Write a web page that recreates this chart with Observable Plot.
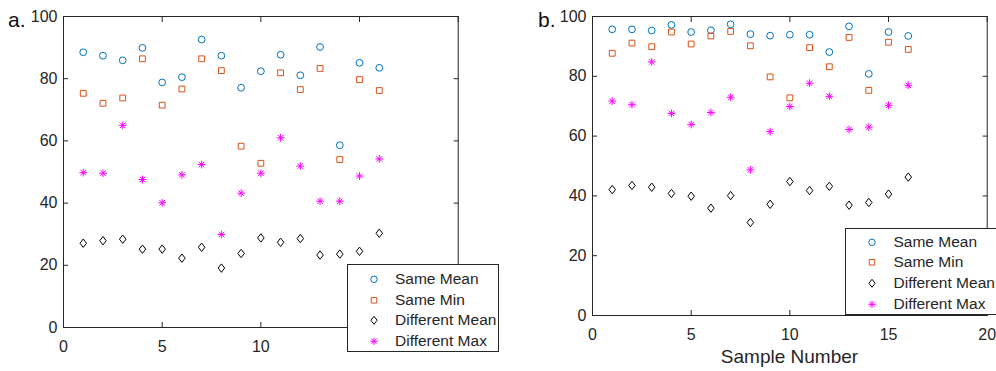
<!DOCTYPE html>
<html><head><meta charset="utf-8">
<script src="https://cdn.jsdelivr.net/npm/d3@7"></script>
<script src="https://cdn.jsdelivr.net/npm/@observablehq/plot@0.6"></script>
<style>
html,body{margin:0;padding:0;background:#fff;width:996px;height:371px;overflow:hidden;font-family:"Liberation Sans",Arial,sans-serif;color:#262626;}
#root{position:relative;width:996px;height:371px;overflow:hidden;}
.panel{position:absolute;top:0;}
.plabel{position:absolute;font-size:21px;line-height:1;color:#111;}
.legend{position:absolute;background:#fff;border:1px solid #262626;box-sizing:border-box;}
.legend .row{position:absolute;left:0;height:20.6px;line-height:20.6px;font-size:15.5px;white-space:nowrap;color:#262626;}
.legend svg{position:absolute;top:0;}
.xlabel{position:absolute;font-size:19px;transform:translateX(-50%);white-space:nowrap;color:#262626;}
</style>
</head><body><div id="root"></div>
<script>
// ---------------- data ----------------
const samples = [1,2,3,4,5,6,7,8,9,10,11,12,13,14,15,16];
const seriesNames = ["Same Mean","Same Min","Different Mean","Different Max"];
const xTicks = [0,5,10,15,20];
const xTickLabelsA = [0,5,10];      // 15 and 20 are hidden behind the legend in panel a
const xTickLabelsB = [0,5,10,15,20];
const yTicks = [0,20,40,60,80,100];

// panel a
const aSameMean = [88.5,87.4,85.9,89.9,78.8,80.5,92.6,87.4,77.1,82.4,87.7,81.1,90.2,58.6,85.1,83.5];
const aSameMin  = [75.3,72.1,73.8,86.4,71.5,76.7,86.4,82.6,58.3,52.8,81.9,76.5,83.3,54.0,79.7,76.2];
const aDiffMean = [27.1,27.9,28.4,25.2,25.2,22.3,25.8,19.1,23.8,28.8,27.4,28.6,23.3,23.6,24.5,30.3];
const aDiffMax  = [49.8,49.6,65.0,47.6,40.1,49.1,52.4,29.9,43.2,49.6,61.0,51.9,40.6,40.6,48.7,54.2];

// panel b
const bSameMean = [95.7,95.7,95.3,97.2,94.8,95.4,97.4,94.1,93.6,93.9,93.9,88.1,96.7,80.8,94.8,93.5];
const bSameMin  = [87.7,91.1,89.9,94.8,90.8,93.5,95.0,90.2,79.8,72.8,89.6,83.2,93.0,75.3,91.4,89.0];
const bDiffMean = [42.1,43.5,42.9,40.8,39.9,35.9,40.1,31.1,37.2,44.8,41.8,43.2,36.9,37.8,40.6,46.3];
const bDiffMax  = [71.7,70.5,84.8,67.6,63.9,67.9,73.0,48.7,61.5,69.9,77.7,73.3,62.2,63.0,70.3,77.0];

// ---------------- symbols ----------------
const symSquare = {draw(c, size){const r=Math.sqrt(size/Math.PI);c.moveTo(-r,-r);c.lineTo(r,-r);c.lineTo(r,r);c.lineTo(-r,r);c.closePath();}};
const symDiamond = {draw(c, size){const r=Math.sqrt(size/Math.PI);const w=r*0.78;c.moveTo(0,-r);c.lineTo(w,0);c.lineTo(0,r);c.lineTo(-w,0);c.closePath();}};
const symAsterisk = {draw(c, size){const r=Math.sqrt(size/Math.PI);const d=r*Math.SQRT1_2;
  c.moveTo(-r,0);c.lineTo(r,0);c.moveTo(0,-r);c.lineTo(0,r);
  c.moveTo(-d,-d);c.lineTo(d,d);c.moveTo(-d,d);c.lineTo(d,-d);}};

const styles = [
  {symbol:"circle",   stroke:"#0072BD", r:3.4},
  {symbol:symSquare,  stroke:"#D95319", r:2.9},
  {symbol:symDiamond, stroke:"#000000", r:4.2},
  {symbol:symAsterisk,stroke:"#FF00FF", r:3.9}
];

function rowsFor(seriesArrays){
  return seriesArrays.map((vals, si) => samples.map((s, i) => ({x:s, y:vals[i], series:seriesNames[si]})));
}

function makePanel(seriesArrays, opt){
  const groups = rowsFor(seriesArrays);
  const marks = [
    Plot.frame({stroke:"#262626", strokeWidth:1}),
    Plot.axisX({anchor:"bottom", ticks:xTicks, tickSize:-5, tickFormat:()=>"", label:null}),
    Plot.axisX({anchor:"bottom", ticks:opt.xLabels, tickSize:0, tickPadding:13, fontSize:16, label:null}),
    Plot.axisX({anchor:"top", ticks:xTicks, tickSize:-5, tickFormat:()=>"", label:null}),
    Plot.axisY({anchor:"left", ticks:yTicks, tickSize:-5, tickPadding:11, fontSize:16, label:null}),
    Plot.axisY({anchor:"right", ticks:yTicks, tickSize:-5, tickFormat:()=>"", label:null}),
  ];
  groups.forEach((g, si) => {
    const st = styles[si];
    marks.push(Plot.dot(g, {x:"x", y:"y", symbol:st.symbol, stroke:st.stroke, fill:"none", r:st.r, strokeWidth:1}));
  });
  const svg = Plot.plot({
    width:opt.width, height:371,
    marginLeft:opt.ml, marginRight:opt.mr, marginTop:16, marginBottom:opt.mb,
    style:{background:"transparent", color:"#262626", fontFamily:"Liberation Sans, Arial, sans-serif"},
    x:{domain:[0,20]},
    y:{domain:[0,100]},
    marks
  });
  svg.classList.add("panel");
  svg.style.left = opt.left + "px";
  return svg;
}

function symbolPath(sym, r){
  const s = (typeof sym === "string") ? d3.symbolCircle : sym;
  return d3.symbol(s, Math.PI*r*r)();
}

function makeLegend(opt){
  const div = document.createElement("div");
  div.className = "legend";
  Object.assign(div.style, {left:opt.left+"px", top:opt.top+"px", width:opt.width+"px", height:opt.height+"px"});
  seriesNames.forEach((name, i) => {
    const row = document.createElement("div");
    row.className = "row";
    row.style.top = (opt.first + i*opt.step - 10.3) + "px";
    row.style.width = "100%";
    const st = styles[i];
    const svg = d3.create("svg").attr("width",14).attr("height",20.6)
      .style("left",(opt.mx-7)+"px");
    svg.append("path").attr("transform","translate(7,10.3)")
      .attr("d", symbolPath(st.symbol, st.r*0.95)).attr("fill","none").attr("stroke",st.stroke).attr("stroke-width",1);
    row.appendChild(svg.node());
    const t = document.createElement("span");
    t.textContent = name;
    t.style.position = "absolute";
    t.style.left = opt.tx + "px";
    row.appendChild(t);
    div.appendChild(row);
  });
  return div;
}

const root = document.getElementById("root");
root.appendChild(makePanel([aSameMean,aSameMin,aDiffMean,aDiffMax], {left:0, width:520, ml:63, mr:62.3, mb:44, xLabels:xTickLabelsA}));
root.appendChild(makePanel([bSameMean,bSameMin,bDiffMean,bDiffMax], {left:530, width:466, ml:62, mr:9.3, mb:56, xLabels:xTickLabelsB}));

root.appendChild(makeLegend({left:347, top:264, width:152, height:88, mx:25.7, tx:47, first:14.3, step:20.7}));
root.appendChild(makeLegend({left:845, top:228, width:153, height:87, mx:26, tx:47.5, first:13, step:20.6}));

const la = document.createElement("div"); la.className="plabel"; la.textContent="a."; la.style.left="8px"; la.style.top="9px"; root.appendChild(la);
const lb = document.createElement("div"); lb.className="plabel"; lb.textContent="b."; lb.style.left="538px"; lb.style.top="9px"; root.appendChild(lb);
const xl = document.createElement("div"); xl.className="xlabel"; xl.textContent="Sample Number"; xl.style.left="789.5px"; xl.style.top="346px"; root.appendChild(xl);
</script>
</body></html>
